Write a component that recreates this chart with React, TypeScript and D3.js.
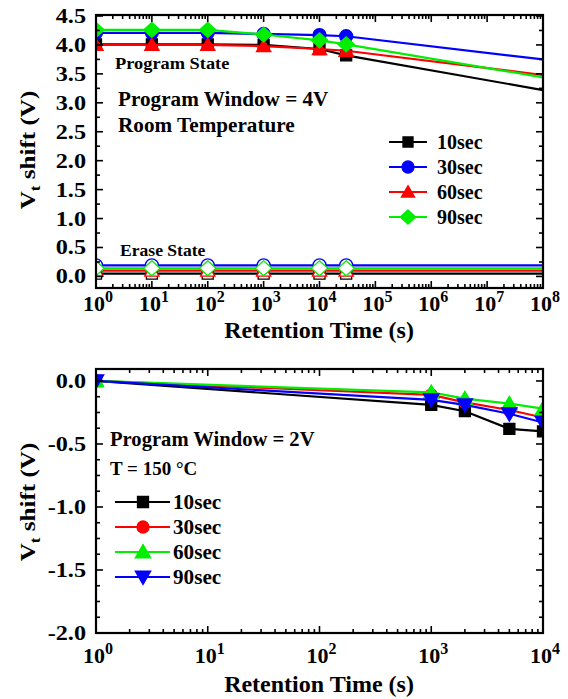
import React from 'react';
import * as d3 from 'd3';

// ---------- data ----------
const seriesNames = ['10sec', '30sec', '60sec', '90sec'];

// top panel (room temperature, program window 4V)
const topTimes = [1, 10, 100, 1000, 10000, 30000];
const topEndTime = 1e8;
const prog10 = [4.01, 4.01, 4.01, 4.0, 3.93, 3.82];
const prog30 = [4.21, 4.21, 4.21, 4.19, 4.17, 4.15];
const prog60 = [4.0, 4.0, 4.0, 3.98, 3.93, 3.9];
const prog90 = [4.26, 4.26, 4.26, 4.18, 4.08, 4.01];
const progEnd = [3.22, 3.75, 3.48, 3.44];
const erase10 = [0.05, 0.05, 0.05, 0.05, 0.05, 0.05];
const erase30 = [0.19, 0.19, 0.19, 0.19, 0.19, 0.19];
const erase60 = [0.1, 0.1, 0.1, 0.1, 0.1, 0.1];
const erase90 = [0.14, 0.14, 0.14, 0.14, 0.14, 0.14];
const eraseEnd = [0.05, 0.19, 0.1, 0.14];
const topYTicks = [0, 0.5, 1.0, 1.5, 2.0, 2.5, 3.0, 3.5, 4.0, 4.5];
const topXExps = [0, 1, 2, 3, 4, 5, 6, 7, 8];

// bottom panel (T = 150 C, program window 2V)
const botTimes = [1, 1000, 2000, 5000, 10000];
const bot10 = [0, -0.19, -0.24, -0.38, -0.4];
const bot30 = [0, -0.11, -0.17, -0.23, -0.29];
const bot60 = [0, -0.09, -0.14, -0.18, -0.22];
const bot90 = [0, -0.15, -0.19, -0.26, -0.33];
const botYTicks = [0, -0.5, -1.0, -1.5, -2.0];
const botXExps = [0, 1, 2, 3, 4];

const FONT = "'Liberation Serif', 'Times New Roman', serif";

type Shape = 'square' | 'circle' | 'triUp' | 'triDown' | 'diamond';

function markerPath(shape: Shape, s: number): string {
  const h = s / 2;
  switch (shape) {
    case 'square':
      return `M${-h},${-h}H${h}V${h}H${-h}Z`;
    case 'circle':
      return `M${h},0A${h},${h} 0 1,1 ${-h},0A${h},${h} 0 1,1 ${h},0Z`;
    case 'triUp':
      return `M0,${-h * 1.05}L${h * 1.1},${h * 0.85}L${-h * 1.1},${h * 0.85}Z`;
    case 'triDown':
      return `M0,${h * 1.05}L${h * 1.1},${-h * 0.85}L${-h * 1.1},${-h * 0.85}Z`;
    case 'diamond':
      return `M0,${-h}L${h * 1.1},0L0,${h}L${-h * 1.1},0Z`;
  }
}

function Marker({ x, y, shape, size, color, fill }: { x: number; y: number; shape: Shape; size: number; color: string; fill: string }) {
  return <path d={markerPath(shape, size)} transform={`translate(${x},${y})`} fill={fill} stroke={color} strokeWidth={1.3} />;
}

// bold serif text, optionally widened horizontally
function T({ x, y, size, sx = 1, anchor = 'start', children }: { x: number; y: number; size: number; sx?: number; anchor?: string; children: React.ReactNode }) {
  return (
    <text transform={`translate(${x},${y}) scale(${sx},1)`} textAnchor={anchor} fontFamily={FONT} fontWeight="bold" fontSize={size} fill="#000">
      {children}
    </text>
  );
}

interface Panel {
  left: number; right: number; top: number; bottom: number;
}

function Frame({ p, x, y, xExps, yMajor, yMinorStep, yMin, yMax }: {
  p: Panel; x: d3.ScaleLogarithmic<number, number>; y: d3.ScaleLinear<number, number>;
  xExps: number[]; yMajor: number[]; yMinorStep: number; yMin: number; yMax: number;
}) {
  const els: JSX.Element[] = [];
  const maj = 7, min = 4;
  let k = 0;
  xExps.forEach((e) => {
    const v = Math.pow(10, e);
    const px = x(v);
    els.push(<line key={k++} x1={px} x2={px} y1={p.bottom} y2={p.bottom - maj} />);
    els.push(<line key={k++} x1={px} x2={px} y1={p.top} y2={p.top + maj} />);
    if (e < xExps[xExps.length - 1]) {
      for (let m = 2; m <= 9; m++) {
        const mx = x(v * m);
        els.push(<line key={k++} x1={mx} x2={mx} y1={p.bottom} y2={p.bottom - min} />);
        els.push(<line key={k++} x1={mx} x2={mx} y1={p.top} y2={p.top + min} />);
      }
    }
  });
  yMajor.forEach((v) => {
    const py = y(v);
    els.push(<line key={k++} x1={p.left} x2={p.left + maj} y1={py} y2={py} />);
    els.push(<line key={k++} x1={p.right} x2={p.right - maj} y1={py} y2={py} />);
  });
  const n0 = Math.ceil(yMin / yMinorStep - 1e-9);
  const n1 = Math.floor(yMax / yMinorStep + 1e-9);
  for (let n = n0; n <= n1; n++) {
    const v = n * yMinorStep;
    if (yMajor.some((m) => Math.abs(m - v) < 1e-9)) continue;
    const py = y(v);
    els.push(<line key={k++} x1={p.left} x2={p.left + min} y1={py} y2={py} />);
    els.push(<line key={k++} x1={p.right} x2={p.right - min} y1={py} y2={py} />);
  }
  return (
    <g stroke="#000" strokeWidth={1.6} fill="none">
      {els}
      <rect x={p.left} y={p.top} width={p.right - p.left} height={p.bottom - p.top} strokeWidth={2.2} />
    </g>
  );
}

function XLabels({ x, exps, yPos }: { x: d3.ScaleLogarithmic<number, number>; exps: number[]; yPos: number }) {
  return (
    <g fontFamily={FONT} fontWeight="bold" fontSize={22} fill="#000">
      {exps.map((e) => (
        <text key={e} x={x(Math.pow(10, e)) + 2} y={yPos} textAnchor="middle">
          10<tspan fontSize={16} dy={-9}>{e}</tspan>
        </text>
      ))}
    </g>
  );
}

const fmtTick = (t: number) => d3.format('.1f')(t).replace('\u2212', '-');

function YLabels({ y, ticks, xPos }: { y: d3.ScaleLinear<number, number>; ticks: number[]; xPos: number }) {
  return (
    <g>
      {ticks.map((t) => (
        <T key={t} x={xPos} y={y(t) + 7} size={22} sx={1.1} anchor="end">{fmtTick(t)}</T>
      ))}
    </g>
  );
}

function YTitle({ cx, cy }: { cx: number; cy: number }) {
  return (
    <text transform={`translate(${cx},${cy}) rotate(-90) scale(1.14,1)`} textAnchor="middle" fontFamily={FONT} fontWeight="bold" fontSize={22} fill="#000">
      V<tspan fontSize={15} dy={5}>t</tspan><tspan dy={-5}> shift (V)</tspan>
    </text>
  );
}

export default function App() {
  // ---------------- top panel ----------------
  const tp: Panel = { left: 96, right: 543, top: 15, bottom: 288 };
  const tx = d3.scaleLog().domain([1, 1e8]).range([tp.left, tp.right]);
  const ty = d3.scaleLinear().domain([-0.2, 4.5]).range([tp.bottom, tp.top + 1]);

  const topColors = ['#000000', '#0000ff', '#ff0000', '#00ee00'];
  const topShapes: Shape[] = ['square', 'circle', 'triUp', 'diamond'];
  const topSizes = [11, 13, 13, 15];
  const progData = [prog10, prog30, prog60, prog90];
  const eraseData = [erase10, erase30, erase60, erase90];

  const line = d3.line<[number, number]>();

  const topLine = (vals: number[], end: number) => {
    const pts: [number, number][] = topTimes.map((t, i) => [tx(t), ty(vals[i])]);
    pts.push([tx(topEndTime), ty(end)]);
    return line(pts) as string;
  };

  // ---------------- bottom panel ----------------
  const bp: Panel = { left: 96, right: 543, top: 369, bottom: 633 };
  const bx = d3.scaleLog().domain([1, 1e4]).range([bp.left, bp.right]);
  const by = d3.scaleLinear().domain([-2.0, 0.095]).range([bp.bottom, bp.top]);
  const botColors = ['#000000', '#ff0000', '#00ee00', '#0000ff'];
  const botShapes: Shape[] = ['square', 'circle', 'triUp', 'triDown'];
  const botSizes = [11, 12, 14, 14];
  const botData = [bot10, bot30, bot60, bot90];

  return (
    <svg width={568} height={699} style={{ position: 'absolute', left: 0, top: 0, background: '#fff' }}>
      <defs>
        <clipPath id="clipTop"><rect x={tp.left} y={tp.top} width={tp.right - tp.left} height={tp.bottom - tp.top} /></clipPath>
        <clipPath id="clipBot"><rect x={bp.left} y={bp.top} width={bp.right - bp.left} height={bp.bottom - bp.top} /></clipPath>
      </defs>
      <rect x={0} y={0} width={568} height={699} fill="#fff" />

      {/* top panel data */}
      <g clipPath="url(#clipTop)">
        {eraseData.map((vals, si) => (
          <path key={'el' + si} d={topLine(vals, eraseEnd[si])} fill="none" stroke={topColors[si]} strokeWidth={2.2} />
        ))}
        {eraseData.map((vals, si) => (
          <g key={'em' + si}>
            {topTimes.map((t, i) => (
              <Marker key={i} x={tx(t)} y={ty(vals[i])} shape={topShapes[si]} size={topSizes[si]} color={topColors[si]} fill="#fff" />
            ))}
          </g>
        ))}
        {progData.map((vals, si) => (
          <g key={'pl' + si}>
            <path d={topLine(vals, progEnd[si])} fill="none" stroke={topColors[si]} strokeWidth={2.2} />
            {topTimes.map((t, i) => (
              <Marker key={i} x={tx(t)} y={ty(vals[i])} shape={topShapes[si]} size={topSizes[si]} color={topColors[si]} fill={topColors[si]} />
            ))}
          </g>
        ))}
      </g>
      <Frame p={tp} x={tx} y={ty} xExps={topXExps} yMajor={topYTicks} yMinorStep={0.25} yMin={-0.2} yMax={4.5} />
      <YLabels y={ty} ticks={topYTicks} xPos={86} />
      <XLabels x={tx} exps={topXExps} yPos={311} />
      <YTitle cx={35} cy={150} />
      <T x={319} y={338} size={24} anchor="middle">Retention Time (s)</T>

      <T x={115} y={69} size={17} sx={1.08}>Program State</T>
      <T x={118} y={106} size={20} sx={1.06}>Program Window = 4V</T>
      <T x={118} y={132} size={20} sx={1.06}>Room Temperature</T>
      <T x={120} y={256} size={16} sx={1.1}>Erase State</T>

      {/* top legend */}
      <g>
        {seriesNames.map((name, i) => {
          const ly = 142 + i * 25;
          return (
            <g key={name}>
              <line x1={389} x2={427} y1={ly} y2={ly} stroke={topColors[i]} strokeWidth={2.2} />
              <Marker x={408} y={ly} shape={topShapes[i]} size={topSizes[i] - 1} color={topColors[i]} fill={topColors[i]} />
              <T x={437} y={ly + 7} size={20}>{name}</T>
            </g>
          );
        })}
      </g>

      {/* bottom panel data */}
      <g clipPath="url(#clipBot)">
        {botData.map((vals, si) => (
          <g key={'bl' + si}>
            <path d={line(botTimes.map((t, i) => [bx(t), by(vals[i])] as [number, number])) as string} fill="none" stroke={botColors[si]} strokeWidth={2.2} />
            {botTimes.map((t, i) => (
              <Marker key={i} x={bx(t)} y={by(vals[i])} shape={botShapes[si]} size={botSizes[si]} color={botColors[si]} fill={botColors[si]} />
            ))}
          </g>
        ))}
      </g>
      <Frame p={bp} x={bx} y={by} xExps={botXExps} yMajor={botYTicks} yMinorStep={0.125} yMin={-2.0} yMax={0.095} />
      <YLabels y={by} ticks={botYTicks} xPos={86} />
      <XLabels x={bx} exps={botXExps} yPos={663} />
      <YTitle cx={35} cy={502} />
      <T x={319} y={692} size={24} anchor="middle">Retention Time (s)</T>

      <T x={110} y={446} size={20} sx={1.03}>Program Window = 2V</T>
      <T x={110} y={475} size={19}>T = 150 °C</T>

      {/* bottom legend */}
      <g>
        {seriesNames.map((name, i) => {
          const ly = 502 + i * 25;
          return (
            <g key={name}>
              <line x1={115} x2={170} y1={ly} y2={ly} stroke={botColors[i]} strokeWidth={2.2} />
              <Marker x={143} y={ly} shape={botShapes[i]} size={botSizes[i]} color={botColors[i]} fill={botColors[i]} />
              <T x={173} y={ly + 7} size={20} sx={1.06}>{name}</T>
            </g>
          );
        })}
      </g>
    </svg>
  );
}
